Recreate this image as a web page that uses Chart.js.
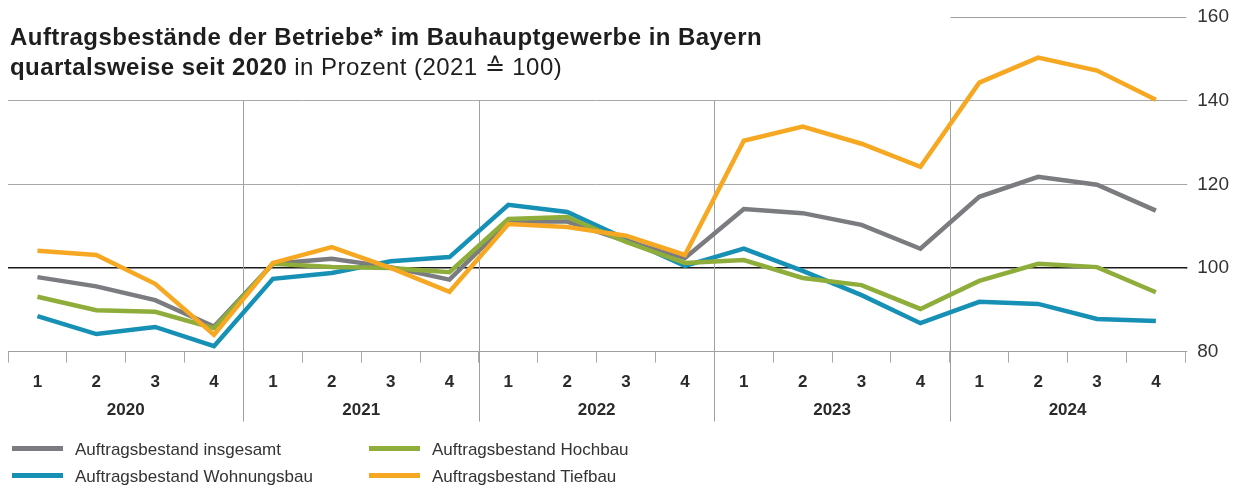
<!DOCTYPE html>
<html><head><meta charset="utf-8">
<script src="https://cdn.jsdelivr.net/npm/chart.js@4/dist/chart.umd.min.js"></script>
<style>
html,body{margin:0;padding:0;background:#fff;}
#wrap{position:relative;width:1241px;height:485px;font-family:"Liberation Sans",Arial,sans-serif;color:#222;}
#c{position:absolute;left:0;top:0;}
#title{position:absolute;left:10px;top:22px;font-size:24px;line-height:30px;color:#1e1e1e;letter-spacing:0.45px;}
#title b{font-weight:bold;}
.leg{position:absolute;font-size:17px;color:#333;white-space:nowrap;}
.leg span{display:inline-block;width:51px;height:4.5px;vertical-align:middle;margin-right:12px;position:relative;top:-2px;}
</style></head>
<body>
<div id="wrap">
<canvas id="c" width="1241" height="485"></canvas>
<div id="title"><b>Auftragsbestände der Betriebe* im Bauhauptgewerbe in Bayern</b><br><b>quartalsweise seit 2020</b> in Prozent (2021 ≙ 100)</div>
<div class="leg" style="left:12px;top:440px"><span style="background:#7b7c80"></span>Auftragsbestand insgesamt</div>
<div class="leg" style="left:12px;top:467px"><span style="background:#1790b5"></span>Auftragsbestand Wohnungsbau</div>
<div class="leg" style="left:369px;top:440px"><span style="background:#8fad3a"></span>Auftragsbestand Hochbau</div>
<div class="leg" style="left:369px;top:467px"><span style="background:#f7a823"></span>Auftragsbestand Tiefbau</div>
</div>
<script>
const quarters = ["1","2","3","4","1","2","3","4","1","2","3","4","1","2","3","4","1","2","3","4"];
const years = ["2020","2021","2022","2023","2024"];
const yTicks = [80,100,120,140,160];
const insgesamt = [97.8,95.6,92.3,86.0,101.0,102.2,100.2,97.2,111.1,111.1,106.4,102.4,114.1,113.1,110.3,104.6,117.0,121.8,119.9,113.7];
const wohnungsbau = [88.5,84.2,85.9,81.3,97.4,98.8,101.6,102.6,115.1,113.4,106.9,100.5,104.6,99.3,93.5,86.8,91.9,91.4,87.8,87.3];
const hochbau = [93.1,89.9,89.5,85.6,101.0,100.2,100.0,99.0,111.7,112.2,106.2,101.2,101.9,97.6,95.9,90.2,96.9,101.0,100.2,94.2];
const tiefbau = [104.1,103.1,96.2,84.0,101.2,105.0,100.0,94.3,110.5,109.8,107.7,103.1,130.4,133.8,129.7,124.2,144.3,150.3,147.2,140.2];
const seriesNames = ["Auftragsbestand insgesamt","Auftragsbestand Wohnungsbau","Auftragsbestand Hochbau","Auftragsbestand Tiefbau"];
const colors = ["#7b7c80","#1790b5","#8fad3a","#f7a823"];

const sepPlugin = {
  id:'sep',
  beforeDatasetsDraw(chart){
    const {ctx, chartArea} = chart;
    const xs = chart.scales.x, ys = chart.scales.y;
    const yTop = ys.getPixelForValue(140);
    ctx.save();
    ctx.strokeStyle = '#a0a0a0';
    ctx.lineWidth = 1;
    let x2024 = 0;
    for (let k=1;k<5;k++){
      const x = Math.round((xs.getPixelForValue(4*k-1)+xs.getPixelForValue(4*k))/2)+0.5;
      if (k===4) x2024 = x;
      ctx.beginPath();
      ctx.moveTo(x, yTop);
      ctx.lineTo(x, chartArea.bottom + 70);
      ctx.stroke();
    }
    const y160 = Math.round(ys.getPixelForValue(160))+0.5;
    ctx.beginPath();
    ctx.moveTo(x2024, y160);
    ctx.lineTo(chartArea.right + 1, y160);
    ctx.stroke();
    // year labels
    ctx.fillStyle = '#2a2a2a';
    ctx.font = 'bold 17px "Liberation Sans", Arial, sans-serif';
    ctx.textAlign = 'center';
    ctx.textBaseline = 'middle';
    years.forEach((yr, k)=>{
      const x = (xs.getPixelForValue(4*k+1)+xs.getPixelForValue(4*k+2))/2;
      ctx.fillText(yr, x, chartArea.bottom + 59);
    });
    ctx.restore();
  }
};

new Chart(document.getElementById('c'), {
  type:'line',
  data:{
    labels: quarters,
    datasets:[
      {label:seriesNames[0], data:insgesamt, borderColor:colors[0], order:2},
      {label:seriesNames[1], data:wohnungsbau, borderColor:colors[1], order:3},
      {label:seriesNames[2], data:hochbau, borderColor:colors[2], order:1},
      {label:seriesNames[3], data:tiefbau, borderColor:colors[3], order:0}
    ].map(d=>Object.assign(d,{borderWidth:4.5, pointRadius:0, tension:0, fill:false, borderJoinStyle:'miter', borderCapStyle:'butt'}))
  },
  options:{
    responsive:false,
    animation:false,
    layout:{padding:{left:8, right:2, top:17, bottom:82}},
    plugins:{legend:{display:false}, tooltip:{enabled:false}},
    scales:{
      x:{
        type:'category',
        offset:true,
        grid:{offset:true, drawOnChartArea:false, tickLength:11, color:'#a8a8a8', lineWidth:1},
        border:{color:'#a0a0a0', width:1},
        ticks:{font:{family:'"Liberation Sans", Arial, sans-serif', size:17, weight:'bold'}, color:'#2a2a2a', padding:10, maxRotation:0, autoSkip:false}
      },
      y:{
        position:'right',
        min:80, max:160,
        afterBuildTicks(scale){ scale.ticks = yTicks.map(v=>({value:v})); },
        afterFit(scale){ scale.paddingTop = 0; scale.paddingBottom = 0; },
        grid:{
          tickLength:2,
          color:(c)=> c.tick && c.tick.value===160 ? 'rgba(0,0,0,0)' : (c.tick && c.tick.value===100 ? '#1a1a1a' : '#a8a8a8'),
          lineWidth:(c)=> c.tick && c.tick.value===100 ? 1.6 : 1
        },
        border:{display:false},
        ticks:{font:{family:'"Liberation Sans", Arial, sans-serif', size:19}, color:'#333', padding:10}
      }
    }
  },
  plugins:[sepPlugin]
});
</script>
</body></html>
